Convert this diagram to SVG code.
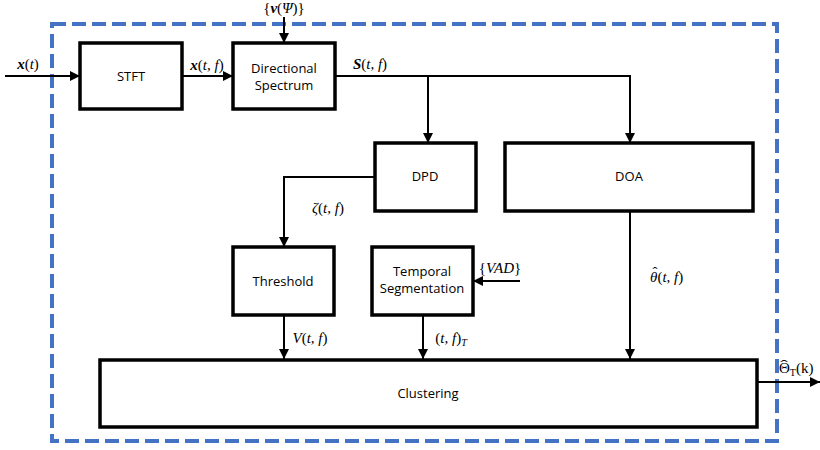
<svg xmlns="http://www.w3.org/2000/svg" width="820" height="450" viewBox="0 0 820 450">
<style>
.box{fill:#fff;stroke:#000;stroke-width:3.5}
.lbl{font-family:"Open Sans","Liberation Sans",sans-serif;font-size:13px;fill:#000;text-anchor:middle}
.m{font-family:"Liberation Serif",serif;font-style:italic;font-weight:normal;font-size:15px;fill:#000}
.mb{font-family:"Liberation Serif",serif;font-style:italic;font-weight:bold;font-size:15px;fill:#000}
.r{font-family:"Liberation Serif",serif;font-style:normal;font-weight:normal;font-size:15px;fill:#000}
.ln{fill:none;stroke:#000;stroke-width:2}
</style>
<defs>
<marker id="ah" viewBox="0 0 10 10" refX="10" refY="5" markerWidth="5" markerHeight="5" orient="auto" markerUnits="strokeWidth">
<path d="M0,0 L10,5 L0,10 z" fill="#000"/>
</marker>
</defs>
<rect x="0" y="0" width="820" height="450" fill="#fff"/>
<rect id="frame" x="52" y="24" width="725" height="417" fill="none" stroke="#4472C4" stroke-width="4" stroke-dasharray="14,6"/>
<g id="connectors">
<line class="ln" x1="5" y1="76" x2="80" y2="76" marker-end="url(#ah)"/>
<line class="ln" x1="182" y1="76" x2="233" y2="76" marker-end="url(#ah)"/>
<line class="ln" x1="284" y1="17" x2="284" y2="43" marker-end="url(#ah)"/>
<polyline class="ln" points="335,76 630,76 630,143" marker-end="url(#ah)"/>
<line class="ln" x1="428" y1="76" x2="428" y2="143" marker-end="url(#ah)"/>
<polyline class="ln" points="375,177 284,177 284,247" marker-end="url(#ah)"/>
<line class="ln" x1="520" y1="281" x2="473" y2="281" marker-end="url(#ah)"/>
<line class="ln" x1="284" y1="315" x2="284" y2="359" marker-end="url(#ah)"/>
<line class="ln" x1="423" y1="315" x2="423" y2="359" marker-end="url(#ah)"/>
<line class="ln" x1="630" y1="212" x2="630" y2="359" marker-end="url(#ah)"/>
<line class="ln" x1="757" y1="382" x2="820" y2="382" marker-end="url(#ah)"/>
</g>
<g id="labels">
<text x="28" y="69" class="mb" text-anchor="middle">x<tspan class="r">(</tspan><tspan class="m">t</tspan><tspan class="r">)</tspan></text>
<text x="207" y="70" class="mb" text-anchor="middle">x<tspan class="r">(</tspan><tspan class="m">t, f</tspan><tspan class="r">)</tspan></text>
<text x="284" y="13" class="r" text-anchor="middle" font-size="14">{<tspan class="mb" font-size="14">v</tspan>(<tspan class="m" font-size="14">Ψ</tspan>)}</text>
<text x="370" y="69" class="mb" text-anchor="middle">S<tspan class="r">(</tspan><tspan class="m">t, f</tspan><tspan class="r">)</tspan></text>
<text x="328" y="213" class="m" text-anchor="middle">ζ<tspan class="r">(</tspan>t, f<tspan class="r">)</tspan></text>
<text x="500" y="273" class="m" text-anchor="middle"><tspan class="r">{</tspan>VAD<tspan class="r">}</tspan></text>
<text x="310" y="343" class="m" text-anchor="middle">V<tspan class="r">(</tspan>t, f<tspan class="r">)</tspan></text>
<text x="451" y="343" class="m" text-anchor="middle"><tspan class="r">(</tspan>t, f<tspan class="r">)</tspan><tspan font-size="10" dy="3">T</tspan></text>
<text x="650" y="282" class="m">θ<tspan class="r">(</tspan>t, f<tspan class="r">)</tspan></text>
<text x="655" y="277" class="r" text-anchor="middle" font-size="14">ˆ</text>
<text x="779" y="373" class="r">Θ<tspan font-size="10" dy="3">T</tspan><tspan dy="-3">(k)</tspan></text>
<text x="784" y="370" class="r" text-anchor="middle" font-size="15" transform="translate(784 370) scale(1.5 1) translate(-784 -370)">ˆ</text>
</g>
<g id="stft"><rect class="box" x="80" y="43" width="102" height="66"/><text class="lbl" x="131" y="81">STFT</text></g>
<g id="dirspec"><rect class="box" x="233" y="43" width="102" height="66"/><text class="lbl" x="284" y="73">Directional</text><text class="lbl" x="284" y="90">Spectrum</text></g>
<g id="dpd"><rect class="box" x="375" y="143" width="101" height="68"/><text class="lbl" x="425" y="181">DPD</text></g>
<g id="doa"><rect class="box" x="505" y="143" width="248" height="68"/><text class="lbl" x="629" y="181">DOA</text></g>
<g id="threshold"><rect class="box" x="233" y="247" width="101" height="68"/><text class="lbl" x="283" y="286">Threshold</text></g>
<g id="temporal"><rect class="box" x="372" y="247" width="101" height="68"/><text class="lbl" x="422" y="276">Temporal</text><text class="lbl" x="422" y="293">Segmentation</text></g>
<g id="clustering"><rect class="box" x="100" y="360" width="657" height="67"/><text class="lbl" x="428" y="398">Clustering</text></g>
</svg>
